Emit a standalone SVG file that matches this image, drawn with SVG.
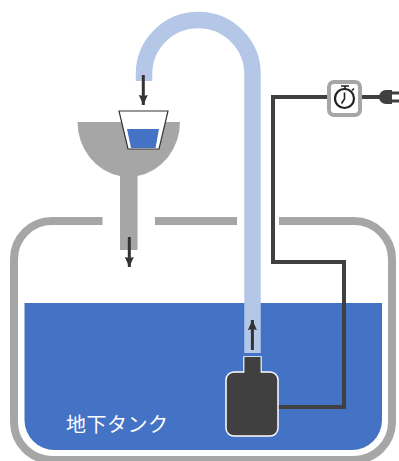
<svg xmlns="http://www.w3.org/2000/svg" width="399" height="461" viewBox="0 0 399 461">
<defs>
<marker id="ah" markerUnits="userSpaceOnUse" markerWidth="10" markerHeight="10" refX="10" refY="4.500" orient="auto"><path d="M0 0L10 4.500L0 9L1 4.500Z" fill="#333"/></marker>
</defs>
<style>
.wire{fill:none;stroke:#404040;stroke-width:4}
.arrow{fill:none;stroke:#333;stroke-width:3;marker-end:url(#ah)}
.grey{fill:#a6a6a6}
</style>
<rect width="399" height="461" fill="#fff"/>
<g id="tank">
<rect x="14" y="221" width="378" height="239" rx="38" fill="none" stroke="#a6a6a6" stroke-width="8"/>
<rect x="102.500" y="212" width="52.500" height="18" fill="#fff"/>
<rect x="237" y="212" width="42" height="18" fill="#fff"/>
</g>
<g id="water">
<path d="M24.500 303H382V420a30 30 0 0 1-30 30H54.500a30 30 0 0 1-30-30Z" fill="#4472c4"/>
<text x="66" y="431.500" font-family="'Noto Sans CJK JP',sans-serif" font-size="20" fill="#fff" letter-spacing="0.500">地下タンク</text>
</g>
<g id="funnel">
<path class="grey" d="M77.500 122H180a51.250 55 0 0 1-42.500 54V250H120V176A51.250 55 0 0 1 77.500 122Z"/>
</g>
<g id="cup">
<path d="M119 111H168L159 149H128Z" fill="#fff" stroke="#333" stroke-width="1.200"/>
<path d="M127 129H159L155.500 148H131Z" fill="#4472c4"/>
</g>
<g id="pipe">
<path d="M144 81V74A54.250 54 0 0 1 252.500 74V353" fill="none" stroke="#b4c7e7" stroke-width="16.500"/>
</g>
<g id="connectors">
<path class="wire" d="M328 97H273V262H344V407H278"/>
<path class="wire" d="M361 97H382"/>
<path class="arrow" d="M143.300 75V105"/>
<path class="arrow" d="M129.300 237V267"/>
<path class="arrow" d="M252.400 350V320"/>
</g>
<g id="pump">
<path d="M244 357H261V372H270a8 8 0 0 1 8 8V428a8 8 0 0 1-8 8H234a8 8 0 0 1-8-8V380a8 8 0 0 1 8-8H244Z" fill="#404040" stroke="#fff" stroke-width="1.500"/>
<rect x="244.500" y="357" width="16" height="17" fill="#404040"/>
</g>
<g id="timer">
<rect x="329" y="82" width="31" height="33" rx="5" fill="#fff" stroke="#a6a6a6" stroke-width="4"/>
<circle cx="344.500" cy="98.500" r="9.500" fill="#fff" stroke="#222" stroke-width="2.200"/>
<path d="M341 86H349M345 86V89M344.500 92.500V99L341.500 103.500M352 90.500L354 88.500" fill="none" stroke="#222" stroke-width="1.600"/>
</g>
<g id="plug">
<path d="M392 90H386a7 7 0 0 0 0 14H392Z" fill="#404040"/>
<path d="M392 93H399M392 101H399" stroke="#404040" stroke-width="3"/>
</g>
</svg>
